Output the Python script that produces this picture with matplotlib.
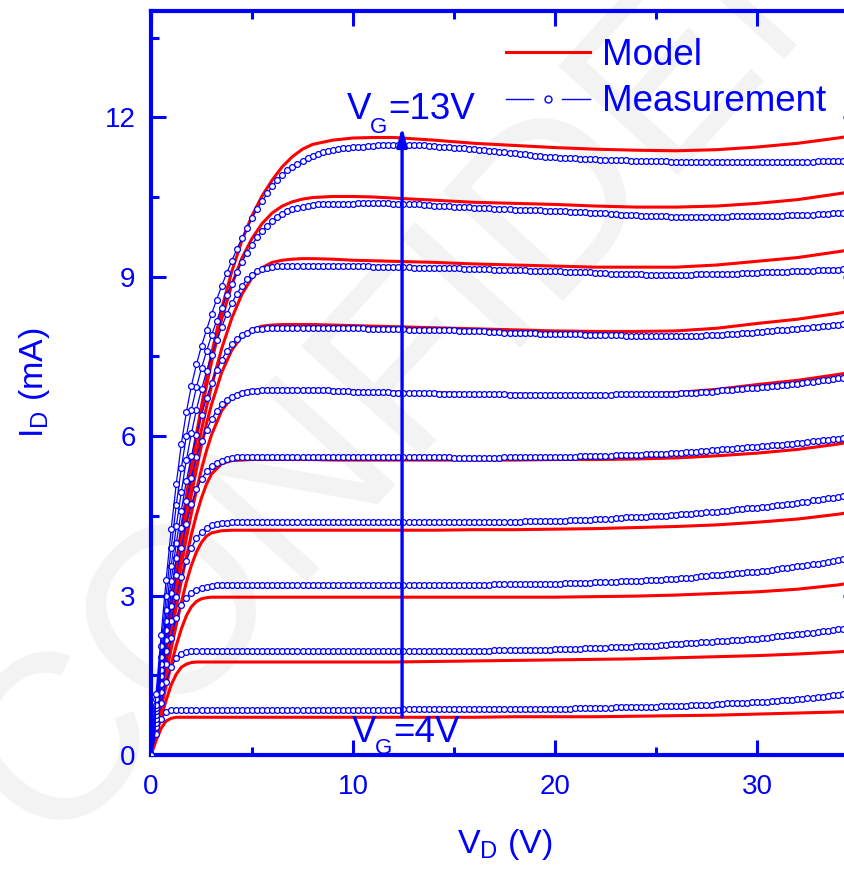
import numpy as np
import matplotlib
matplotlib.use("Agg")
import matplotlib.pyplot as plt
from matplotlib.lines import Line2D
from matplotlib.legend_handler import HandlerBase
from matplotlib.ticker import MultipleLocator

plt.rcParams['font.family'] = ['Liberation Sans', 'DejaVu Sans']
plt.rcParams['mathtext.fontset'] = 'custom'
plt.rcParams['mathtext.rm'] = 'Liberation Sans'
plt.rcParams['mathtext.it'] = 'Liberation Sans:italic'
plt.rcParams['mathtext.bf'] = 'Liberation Sans:bold'

BLUE = (0, 0, 1)
RED = (1, 0, 0)

# drain voltage sweep of the measurement (0.25 V step)
vd_meas = np.arange(0, 35.01, 0.25)

# measured drain current (mA), V_G = 4 ... 13 V
id_meas_4v = [
    0, 0.40, 0.68, 0.80, 0.84, 0.85, 0.85, 0.85, 0.85, 0.85, 0.85, 0.85, 0.85, 0.85, 0.85, 0.85, 0.85, 0.85, 0.85, 0.85,
    0.85, 0.85, 0.85, 0.85, 0.85, 0.85, 0.85, 0.85, 0.85, 0.85, 0.85, 0.85, 0.85, 0.85, 0.85, 0.85, 0.85, 0.85, 0.85, 0.85,
    0.85, 0.85, 0.85, 0.85, 0.85, 0.85, 0.85, 0.85, 0.85, 0.85, 0.86, 0.86, 0.86, 0.86, 0.86, 0.86, 0.86, 0.86, 0.86, 0.86,
    0.86, 0.86, 0.86, 0.86, 0.86, 0.86, 0.86, 0.86, 0.86, 0.86, 0.86, 0.86, 0.87, 0.87, 0.87, 0.87, 0.87, 0.87, 0.87, 0.87,
    0.87, 0.87, 0.87, 0.87, 0.88, 0.88, 0.88, 0.88, 0.89, 0.89, 0.89, 0.89, 0.90, 0.90, 0.90, 0.90, 0.91, 0.91, 0.91, 0.91,
    0.91, 0.92, 0.92, 0.92, 0.93, 0.93, 0.93, 0.94, 0.94, 0.95, 0.95, 0.95, 0.96, 0.96, 0.97, 0.97, 0.98, 0.98, 0.98, 0.99,
    0.99, 1.00, 1.00, 1.01, 1.02, 1.03, 1.03, 1.04, 1.05, 1.06, 1.07, 1.08, 1.09, 1.10, 1.11, 1.12, 1.13, 1.14, 1.15, 1.16,
    1.17]
id_meas_5v = [
    0, 0.52, 0.98, 1.38, 1.65, 1.82, 1.90, 1.93, 1.95, 1.95, 1.95, 1.96, 1.96, 1.96, 1.96, 1.96, 1.96, 1.96, 1.96, 1.96,
    1.96, 1.96, 1.96, 1.96, 1.96, 1.96, 1.96, 1.96, 1.96, 1.96, 1.96, 1.96, 1.96, 1.96, 1.96, 1.96, 1.96, 1.96, 1.96, 1.96,
    1.96, 1.96, 1.96, 1.96, 1.96, 1.96, 1.96, 1.96, 1.96, 1.96, 1.96, 1.96, 1.96, 1.96, 1.96, 1.96, 1.96, 1.96, 1.96, 1.96,
    1.96, 1.96, 1.96, 1.96, 1.96, 1.96, 1.96, 1.96, 1.97, 1.97, 1.97, 1.97, 1.97, 1.97, 1.98, 1.98, 1.98, 1.98, 1.98, 1.98,
    1.99, 1.99, 1.99, 2.00, 2.00, 2.00, 2.01, 2.01, 2.02, 2.02, 2.02, 2.03, 2.03, 2.03, 2.04, 2.04, 2.05, 2.05, 2.05, 2.06,
    2.06, 2.07, 2.07, 2.08, 2.08, 2.09, 2.10, 2.10, 2.11, 2.12, 2.12, 2.13, 2.14, 2.14, 2.15, 2.16, 2.17, 2.17, 2.18, 2.19,
    2.19, 2.20, 2.21, 2.22, 2.23, 2.24, 2.25, 2.26, 2.27, 2.28, 2.29, 2.30, 2.31, 2.33, 2.34, 2.35, 2.37, 2.38, 2.39, 2.41,
    2.42]
id_meas_6v = [
    0, 0.60, 1.18, 1.72, 2.20, 2.58, 2.82, 2.96, 3.05, 3.10, 3.14, 3.16, 3.18, 3.19, 3.20, 3.20, 3.20, 3.20, 3.20, 3.20,
    3.20, 3.20, 3.20, 3.20, 3.20, 3.20, 3.20, 3.20, 3.20, 3.20, 3.20, 3.20, 3.20, 3.20, 3.20, 3.20, 3.20, 3.20, 3.20, 3.20,
    3.20, 3.20, 3.20, 3.20, 3.20, 3.20, 3.20, 3.20, 3.20, 3.20, 3.20, 3.20, 3.20, 3.20, 3.20, 3.20, 3.20, 3.20, 3.20, 3.20,
    3.20, 3.20, 3.20, 3.20, 3.20, 3.20, 3.20, 3.20, 3.21, 3.21, 3.21, 3.21, 3.21, 3.21, 3.22, 3.22, 3.22, 3.22, 3.22, 3.22,
    3.22, 3.22, 3.23, 3.23, 3.23, 3.24, 3.24, 3.24, 3.25, 3.25, 3.26, 3.26, 3.26, 3.27, 3.27, 3.28, 3.28, 3.28, 3.29, 3.29,
    3.29, 3.30, 3.31, 3.31, 3.32, 3.33, 3.34, 3.34, 3.35, 3.36, 3.37, 3.38, 3.39, 3.39, 3.40, 3.41, 3.42, 3.43, 3.44, 3.45,
    3.45, 3.46, 3.47, 3.48, 3.50, 3.51, 3.52, 3.53, 3.55, 3.56, 3.57, 3.59, 3.60, 3.62, 3.63, 3.65, 3.66, 3.68, 3.69, 3.71,
    3.72]
id_meas_7v = [
    0, 0.68, 1.33, 1.95, 2.52, 2.98, 3.35, 3.65, 3.90, 4.08, 4.20, 4.28, 4.32, 4.35, 4.36, 4.37, 4.38, 4.38, 4.38, 4.38,
    4.38, 4.38, 4.38, 4.38, 4.38, 4.38, 4.38, 4.38, 4.38, 4.38, 4.38, 4.38, 4.38, 4.38, 4.38, 4.38, 4.38, 4.38, 4.38, 4.38,
    4.38, 4.38, 4.38, 4.38, 4.38, 4.38, 4.38, 4.38, 4.38, 4.38, 4.38, 4.38, 4.38, 4.38, 4.38, 4.38, 4.38, 4.38, 4.38, 4.38,
    4.38, 4.38, 4.38, 4.38, 4.38, 4.38, 4.38, 4.38, 4.39, 4.39, 4.39, 4.39, 4.39, 4.39, 4.40, 4.40, 4.40, 4.40, 4.40, 4.40,
    4.41, 4.41, 4.41, 4.42, 4.42, 4.43, 4.43, 4.43, 4.44, 4.44, 4.45, 4.45, 4.46, 4.46, 4.47, 4.47, 4.47, 4.48, 4.48, 4.49,
    4.49, 4.50, 4.50, 4.51, 4.52, 4.53, 4.53, 4.54, 4.55, 4.56, 4.57, 4.57, 4.58, 4.59, 4.60, 4.61, 4.62, 4.63, 4.64, 4.65,
    4.65, 4.66, 4.67, 4.68, 4.70, 4.71, 4.72, 4.73, 4.75, 4.76, 4.77, 4.79, 4.80, 4.81, 4.83, 4.84, 4.86, 4.87, 4.88, 4.90,
    4.91]
id_meas_8v = [
    0, 0.76, 1.48, 2.16, 2.80, 3.38, 3.90, 4.35, 4.72, 5.00, 5.20, 5.34, 5.44, 5.50, 5.54, 5.57, 5.59, 5.60, 5.61, 5.61,
    5.61, 5.61, 5.61, 5.61, 5.61, 5.61, 5.61, 5.61, 5.61, 5.61, 5.61, 5.61, 5.61, 5.61, 5.61, 5.61, 5.61, 5.61, 5.61, 5.61,
    5.60, 5.60, 5.60, 5.60, 5.60, 5.60, 5.60, 5.60, 5.60, 5.60, 5.60, 5.60, 5.60, 5.60, 5.60, 5.60, 5.60, 5.60, 5.60, 5.60,
    5.59, 5.59, 5.59, 5.59, 5.59, 5.59, 5.59, 5.59, 5.59, 5.59, 5.60, 5.60, 5.60, 5.60, 5.60, 5.60, 5.60, 5.60, 5.60, 5.60,
    5.60, 5.60, 5.61, 5.61, 5.61, 5.62, 5.62, 5.62, 5.63, 5.63, 5.63, 5.63, 5.64, 5.64, 5.64, 5.65, 5.65, 5.65, 5.66, 5.66,
    5.66, 5.67, 5.67, 5.68, 5.68, 5.69, 5.70, 5.70, 5.71, 5.72, 5.72, 5.73, 5.74, 5.75, 5.75, 5.76, 5.77, 5.78, 5.79, 5.80,
    5.80, 5.81, 5.82, 5.83, 5.83, 5.84, 5.85, 5.86, 5.87, 5.88, 5.89, 5.90, 5.91, 5.92, 5.93, 5.94, 5.95, 5.96, 5.97, 5.98,
    5.99]
id_meas_9v = [
    0, 0.82, 1.60, 2.35, 3.05, 3.70, 4.28, 4.78, 5.22, 5.60, 5.90, 6.12, 6.32, 6.48, 6.60, 6.68, 6.74, 6.78, 6.81, 6.83,
    6.85, 6.85, 6.86, 6.86, 6.86, 6.86, 6.86, 6.86, 6.86, 6.86, 6.86, 6.86, 6.86, 6.86, 6.86, 6.86, 6.85, 6.85, 6.85, 6.85,
    6.84, 6.84, 6.84, 6.84, 6.83, 6.83, 6.83, 6.83, 6.82, 6.82, 6.82, 6.82, 6.81, 6.81, 6.81, 6.81, 6.81, 6.80, 6.80, 6.80,
    6.80, 6.80, 6.80, 6.80, 6.79, 6.79, 6.79, 6.79, 6.79, 6.79, 6.79, 6.78, 6.78, 6.78, 6.78, 6.78, 6.78, 6.78, 6.78, 6.78,
    6.78, 6.78, 6.78, 6.78, 6.78, 6.78, 6.78, 6.78, 6.78, 6.78, 6.78, 6.78, 6.79, 6.79, 6.79, 6.79, 6.79, 6.79, 6.79, 6.79,
    6.79, 6.79, 6.80, 6.80, 6.80, 6.81, 6.81, 6.82, 6.82, 6.83, 6.84, 6.84, 6.85, 6.86, 6.86, 6.87, 6.88, 6.89, 6.90, 6.90,
    6.91, 6.92, 6.93, 6.94, 6.95, 6.96, 6.97, 6.98, 6.99, 7.00, 7.01, 7.02, 7.04, 7.05, 7.06, 7.07, 7.09, 7.10, 7.11, 7.12,
    7.13]
id_meas_10v = [
    0, 0.88, 1.72, 2.52, 3.28, 3.98, 4.60, 5.15, 5.62, 6.03, 6.40, 6.72, 7.00, 7.24, 7.44, 7.60, 7.73, 7.83, 7.90, 7.95,
    7.99, 8.01, 8.02, 8.03, 8.03, 8.04, 8.04, 8.04, 8.04, 8.04, 8.04, 8.04, 8.04, 8.04, 8.04, 8.04, 8.03, 8.03, 8.03, 8.03,
    8.03, 8.03, 8.03, 8.02, 8.02, 8.02, 8.02, 8.01, 8.01, 8.01, 8.01, 8.00, 8.00, 8.00, 8.00, 8.00, 7.99, 7.99, 7.99, 7.99,
    7.99, 7.98, 7.98, 7.98, 7.97, 7.97, 7.97, 7.96, 7.96, 7.96, 7.95, 7.95, 7.95, 7.94, 7.94, 7.94, 7.94, 7.93, 7.93, 7.93,
    7.93, 7.93, 7.92, 7.92, 7.92, 7.92, 7.91, 7.91, 7.91, 7.91, 7.90, 7.90, 7.90, 7.90, 7.89, 7.89, 7.89, 7.89, 7.88, 7.88,
    7.88, 7.88, 7.88, 7.88, 7.88, 7.88, 7.88, 7.89, 7.89, 7.89, 7.90, 7.90, 7.91, 7.91, 7.92, 7.92, 7.93, 7.94, 7.94, 7.95,
    7.96, 7.96, 7.97, 7.98, 7.99, 8.00, 8.00, 8.01, 8.02, 8.03, 8.04, 8.05, 8.06, 8.07, 8.08, 8.09, 8.10, 8.11, 8.11, 8.12,
    8.13]
id_meas_11v = [
    0, 0.95, 1.85, 2.72, 3.55, 4.30, 4.95, 5.55, 6.05, 6.50, 6.88, 7.22, 7.52, 7.80, 8.05, 8.30, 8.50, 8.68, 8.83, 8.95,
    9.04, 9.10, 9.14, 9.17, 9.19, 9.20, 9.21, 9.21, 9.21, 9.21, 9.21, 9.21, 9.21, 9.21, 9.21, 9.21, 9.21, 9.21, 9.20, 9.20,
    9.20, 9.20, 9.20, 9.20, 9.19, 9.19, 9.19, 9.19, 9.18, 9.18, 9.18, 9.18, 9.17, 9.17, 9.17, 9.17, 9.17, 9.16, 9.16, 9.16,
    9.16, 9.16, 9.15, 9.15, 9.15, 9.14, 9.14, 9.14, 9.13, 9.13, 9.13, 9.13, 9.12, 9.12, 9.12, 9.11, 9.11, 9.11, 9.10, 9.10,
    9.10, 9.10, 9.09, 9.09, 9.09, 9.08, 9.08, 9.08, 9.07, 9.07, 9.07, 9.06, 9.06, 9.06, 9.05, 9.05, 9.05, 9.05, 9.04, 9.04,
    9.04, 9.04, 9.04, 9.04, 9.04, 9.04, 9.04, 9.04, 9.05, 9.05, 9.05, 9.05, 9.05, 9.06, 9.06, 9.06, 9.06, 9.07, 9.07, 9.07,
    9.07, 9.08, 9.08, 9.08, 9.09, 9.09, 9.09, 9.10, 9.10, 9.10, 9.11, 9.11, 9.12, 9.12, 9.12, 9.13, 9.13, 9.14, 9.14, 9.15,
    9.15]
id_meas_12v = [
    0, 1.05, 2.05, 3.00, 3.90, 4.70, 5.40, 6.00, 6.50, 6.92, 7.28, 7.60, 7.90, 8.17, 8.42, 8.65, 8.87, 9.08, 9.28, 9.45,
    9.60, 9.74, 9.86, 9.96, 10.05, 10.12, 10.18, 10.23, 10.27, 10.30, 10.32, 10.34, 10.35, 10.36, 10.36, 10.37, 10.37, 10.37, 10.37, 10.37,
    10.37, 10.38, 10.38, 10.38, 10.38, 10.38, 10.38, 10.38, 10.37, 10.37, 10.37, 10.36, 10.36, 10.36, 10.35, 10.35, 10.34, 10.34, 10.34, 10.33,
    10.32, 10.32, 10.31, 10.31, 10.30, 10.30, 10.29, 10.29, 10.28, 10.28, 10.27, 10.27, 10.26, 10.26, 10.26, 10.25, 10.25, 10.25, 10.24, 10.24,
    10.24, 10.23, 10.23, 10.22, 10.22, 10.21, 10.21, 10.20, 10.20, 10.19, 10.19, 10.18, 10.18, 10.17, 10.17, 10.16, 10.16, 10.15, 10.15, 10.14,
    10.14, 10.14, 10.14, 10.13, 10.13, 10.13, 10.13, 10.13, 10.13, 10.13, 10.13, 10.13, 10.13, 10.13, 10.13, 10.14, 10.14, 10.14, 10.14, 10.14,
    10.14, 10.14, 10.15, 10.15, 10.15, 10.15, 10.16, 10.16, 10.16, 10.17, 10.17, 10.17, 10.18, 10.18, 10.18, 10.19, 10.19, 10.19, 10.20, 10.20,
    10.20]
id_meas_13v = [
    0, 1.15, 2.25, 3.30, 4.25, 5.10, 5.85, 6.45, 6.95, 7.35, 7.70, 8.00, 8.30, 8.57, 8.83, 9.07, 9.30, 9.52, 9.72, 9.92,
    10.10, 10.27, 10.42, 10.57, 10.70, 10.82, 10.92, 11.00, 11.07, 11.13, 11.18, 11.23, 11.27, 11.31, 11.34, 11.37, 11.39, 11.41, 11.42, 11.43,
    11.44, 11.45, 11.45, 11.46, 11.46, 11.47, 11.47, 11.47, 11.47, 11.47, 11.47, 11.47, 11.47, 11.47, 11.47, 11.46, 11.46, 11.45, 11.45, 11.44,
    11.43, 11.42, 11.42, 11.41, 11.40, 11.39, 11.38, 11.37, 11.36, 11.35, 11.34, 11.33, 11.32, 11.31, 11.30, 11.29, 11.28, 11.27, 11.26, 11.26,
    11.25, 11.24, 11.24, 11.23, 11.23, 11.22, 11.22, 11.21, 11.21, 11.20, 11.20, 11.20, 11.19, 11.19, 11.19, 11.18, 11.18, 11.18, 11.17, 11.17,
    11.17, 11.17, 11.17, 11.16, 11.16, 11.16, 11.16, 11.16, 11.15, 11.15, 11.15, 11.15, 11.15, 11.15, 11.15, 11.15, 11.15, 11.15, 11.15, 11.15,
    11.15, 11.15, 11.15, 11.15, 11.15, 11.16, 11.16, 11.16, 11.16, 11.16, 11.16, 11.16, 11.17, 11.17, 11.17, 11.17, 11.17, 11.17, 11.17, 11.18,
    11.18]

# model drain voltage points and simulated drain current (mA)
vd_model = [0, 0.25, 0.5, 0.75, 1, 1.25, 1.5, 1.75, 2, 2.25, 2.5, 2.75, 3,
            3.5, 4, 4.5, 5, 5.5, 6, 6.5, 7, 7.5, 8,
            9, 10, 11, 12, 14, 16, 18, 20, 22, 24, 26, 28, 30, 32, 34, 35]
id_model_4v = [0, 0.27, 0.50, 0.64, 0.69, 0.71, 0.71, 0.71, 0.71, 0.71, 0.71, 0.71, 0.71,
               0.71, 0.71, 0.71, 0.71, 0.71, 0.71, 0.71, 0.71, 0.71, 0.71,
               0.71, 0.71, 0.71, 0.71, 0.71, 0.71, 0.72, 0.72, 0.72, 0.73, 0.74, 0.75, 0.77, 0.79, 0.81, 0.82]
id_model_5v = [0, 0.36, 0.71, 1.03, 1.32, 1.52, 1.65, 1.71, 1.74, 1.75, 1.75, 1.75, 1.75,
               1.75, 1.75, 1.75, 1.75, 1.75, 1.75, 1.75, 1.75, 1.75, 1.75,
               1.75, 1.75, 1.75, 1.75, 1.76, 1.77, 1.78, 1.79, 1.80, 1.81, 1.83, 1.85, 1.87, 1.90, 1.94, 1.97]
id_model_6v = [0, 0.45, 0.88, 1.30, 1.70, 2.06, 2.37, 2.62, 2.79, 2.89, 2.94, 2.96, 2.97,
               2.97, 2.97, 2.97, 2.97, 2.97, 2.97, 2.97, 2.97, 2.97, 2.97,
               2.97, 2.97, 2.97, 2.97, 2.97, 2.97, 2.97, 2.97, 2.98, 2.99, 3.01, 3.04, 3.07, 3.12, 3.20, 3.26]
id_model_7v = [0, 0.52, 1.03, 1.52, 2.00, 2.45, 2.87, 3.25, 3.57, 3.82, 4.00, 4.12, 4.18,
               4.22, 4.23, 4.23, 4.23, 4.23, 4.23, 4.23, 4.23, 4.23, 4.23,
               4.23, 4.23, 4.23, 4.23, 4.23, 4.24, 4.24, 4.25, 4.26, 4.28, 4.30, 4.33, 4.38, 4.44, 4.53, 4.59]
id_model_8v = [0, 0.58, 1.16, 1.72, 2.26, 2.78, 3.27, 3.73, 4.15, 4.52, 4.84, 5.10, 5.29,
               5.48, 5.54, 5.55, 5.56, 5.56, 5.56, 5.56, 5.56, 5.56, 5.56,
               5.55, 5.55, 5.55, 5.55, 5.55, 5.55, 5.55, 5.56, 5.56, 5.57, 5.59, 5.63, 5.68, 5.75, 5.85, 5.92]
id_model_9v = [0, 0.62, 1.24, 1.85, 2.44, 3.02, 3.57, 4.08, 4.55, 4.98, 5.38, 5.73, 6.03,
               6.48, 6.73, 6.83, 6.86, 6.87, 6.87, 6.87, 6.87, 6.87, 6.86,
               6.86, 6.85, 6.84, 6.83, 6.82, 6.80, 6.79, 6.78, 6.78, 6.79, 6.82, 6.88, 6.97, 7.05, 7.16, 7.22]
id_model_10v = [0, 0.66, 1.32, 1.97, 2.60, 3.22, 3.82, 4.38, 4.90, 5.38, 5.83, 6.24, 6.60,
                7.20, 7.62, 7.88, 8.01, 8.07, 8.09, 8.10, 8.10, 8.10, 8.10,
                8.09, 8.08, 8.07, 8.06, 8.04, 8.02, 8.00, 7.98, 7.97, 7.97, 7.98, 8.03, 8.12, 8.20, 8.31, 8.38]
id_model_11v = [0, 0.70, 1.40, 2.08, 2.75, 3.40, 4.02, 4.60, 5.15, 5.65, 6.12, 6.55, 6.95,
                7.65, 8.22, 8.67, 8.98, 9.17, 9.27, 9.31, 9.33, 9.34, 9.34,
                9.33, 9.31, 9.30, 9.29, 9.27, 9.24, 9.22, 9.20, 9.18, 9.18, 9.18, 9.22, 9.29, 9.36, 9.47, 9.53]
id_model_12v = [0, 0.72, 1.44, 2.15, 2.85, 3.52, 4.17, 4.80, 5.40, 5.95, 6.47, 6.95, 7.40,
                8.20, 8.85, 9.35, 9.72, 10.00, 10.20, 10.33, 10.41, 10.46, 10.49,
                10.51, 10.51, 10.50, 10.48, 10.44, 10.40, 10.38, 10.36, 10.33, 10.31, 10.31, 10.33, 10.38, 10.45, 10.56, 10.62]
id_model_13v = [0, 0.74, 1.48, 2.20, 2.90, 3.58, 4.24, 4.87, 5.47, 6.04, 6.57, 7.08, 7.55,
                8.40, 9.10, 9.68, 10.15, 10.52, 10.82, 11.07, 11.26, 11.40, 11.49,
                11.57, 11.61, 11.62, 11.62, 11.57, 11.51, 11.47, 11.43, 11.40, 11.38, 11.37, 11.39, 11.44, 11.51, 11.61, 11.67]

meas_curves = [id_meas_4v, id_meas_5v, id_meas_6v, id_meas_7v, id_meas_8v,
               id_meas_9v, id_meas_10v, id_meas_11v, id_meas_12v, id_meas_13v]
model_curves = [id_model_4v, id_model_5v, id_model_6v, id_model_7v, id_model_8v,
                id_model_9v, id_model_10v, id_model_11v, id_model_12v, id_model_13v]


class MeasHandler(HandlerBase):
    # legend key drawn as  — o —
    def create_artists(self, legend, orig_handle, xdescent, ydescent,
                       width, height, fontsize, trans):
        x0 = -xdescent
        x1 = -xdescent + width
        y = (height - ydescent) / 2
        left = Line2D([x0, x0 + 0.32 * width], [y, y], color=BLUE, lw=1.0)
        right = Line2D([x1 - 0.33 * width, x1], [y, y], color=BLUE, lw=1.0)
        dot = Line2D([(x0 + x1) / 2], [y], ls='none', marker='o', ms=5,
                     mfc='white', mec=BLUE, mew=1.0)
        for art in (left, right, dot):
            art.set_transform(trans)
        return [left, right, dot]


def vg_label(ax, x_v, x_sub, x_rest, y_base, y_sub, rest):
    # "V" + lowered small "G" + "=..V", placed like the original annotation
    ax.text(x_v, y_base, 'V', fontsize=26.5, color=BLUE, va='baseline', zorder=6)
    ax.text(x_sub, y_sub, 'G', fontsize=16, color=BLUE, va='baseline', zorder=6)
    ax.text(x_rest, y_base, rest, fontsize=26.5, color=BLUE, va='baseline', zorder=6)


fig = plt.figure(figsize=(8.44, 8.71), dpi=100)
fig.text(590 / 844, 1 - 168 / 871, 'CONFIDENTIAL', rotation=47.6,
         rotation_mode='anchor', ha='center', va='center', fontsize=170,
         color='#f3f3f3', zorder=-10)

ax = fig.add_axes([151 / 844, 116 / 871, 707 / 844, 744 / 871])
ax.patch.set_visible(False)

for cur in model_curves:
    ax.plot(vd_model, cur, color=RED, lw=2.2, zorder=2)
for cur in meas_curves:
    ax.plot(vd_meas[:len(cur)], cur, color=BLUE, lw=0.9, marker='o', ms=4.2,
            mfc='white', mec=BLUE, mew=0.9, zorder=3)

ax.annotate('', xy=(12.43, 11.82), xytext=(12.43, 0.72),
            arrowprops=dict(arrowstyle='-|>,head_length=1.1,head_width=0.3',
                            color=BLUE, lw=2.4, mutation_scale=10,
                            shrinkA=0, shrinkB=0), zorder=5)
vg_label(ax, 9.7, 10.84, 11.73, 11.97, 11.71, '=13V')
vg_label(ax, 9.95, 11.09, 11.98, 0.24, 0.02, '=4V')

ax.set_xlim(0, 35)
ax.set_ylim(0, 14)
ax.xaxis.set_major_locator(MultipleLocator(10))
ax.xaxis.set_minor_locator(MultipleLocator(5))
ax.yaxis.set_major_locator(MultipleLocator(3))
ax.yaxis.set_minor_locator(MultipleLocator(1.5))

for sp in ax.spines.values():
    sp.set_color(BLUE)
    sp.set_linewidth(3)
ax.tick_params(which='both', direction='in', top=True, right=True,
               colors=BLUE, width=2.2, labelsize=20)
ax.tick_params(which='major', length=11)
ax.tick_params(which='minor', length=6)
ax.tick_params(axis='x', pad=14)
ax.tick_params(axis='y', pad=11)

ax.set_xlabel(r'V$_\mathregular{D}$ (V)', fontsize=24.5, color=BLUE)
ax.set_ylabel(r'I$_\mathregular{D}$ (mA)', fontsize=24.5, color=BLUE)
ax.xaxis.set_label_coords(0.5, -0.097)
ax.yaxis.set_label_coords(-0.14, 0.5)

handles = [Line2D([], [], color=RED, lw=2.2),
           Line2D([], [], color=BLUE, marker='o')]
ax.legend(handles, ['Model', 'Measurement'],
          handler_map={handles[1]: MeasHandler()},
          loc='upper left', bbox_to_anchor=(506 / 844, 1 - 38 / 871),
          bbox_transform=fig.transFigure, frameon=False, fontsize=26.5,
          handlelength=2.28, handletextpad=0.33, labelspacing=0.31,
          borderpad=0, borderaxespad=0, labelcolor=BLUE)

fig.savefig('out.png', dpi=100)
